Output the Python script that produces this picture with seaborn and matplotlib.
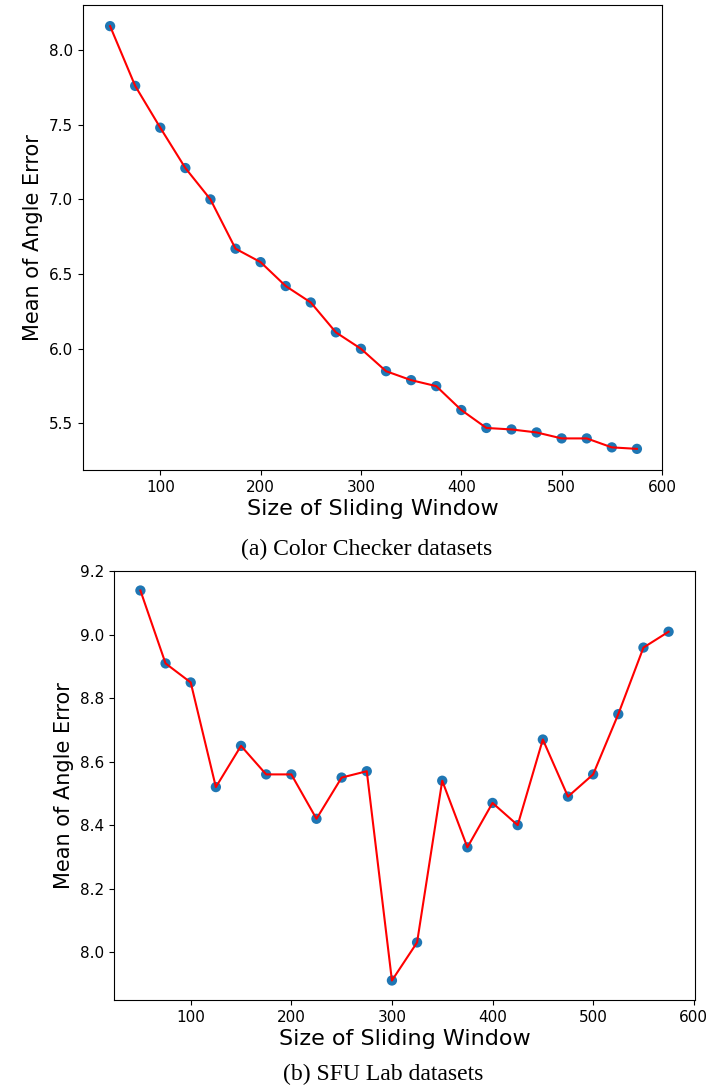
import numpy as np
import pandas as pd
import matplotlib
matplotlib.use('Agg')
import matplotlib.pyplot as plt
import seaborn as sn

# Tamanhos da janela deslizante
window_size = [50, 75, 100, 125, 150, 175, 200, 225, 250, 275, 300,
               325, 350, 375, 400, 425, 450, 475, 500, 525, 550, 575]

# Erro angular medio - Color Checker
color_checker = [8.16, 7.76, 7.48, 7.21, 7.00, 6.67, 6.58, 6.42, 6.31, 6.11, 6.00,
                 5.85, 5.79, 5.75, 5.59, 5.47, 5.46, 5.44, 5.40, 5.40, 5.34, 5.33]

# Erro angular medio - SFU Lab
sfu_lab = [9.14, 8.91, 8.85, 8.52, 8.65, 8.56, 8.56, 8.42, 8.55, 8.57, 7.91,
           8.03, 8.54, 8.33, 8.47, 8.40, 8.67, 8.49, 8.56, 8.75, 8.96, 9.01]

captions = ['(a) Color Checker datasets', '(b) SFU Lab datasets']

W, H = 721, 1089
fig = plt.figure(figsize=(W / 100, H / 100), dpi=100)

def px_axes(x0, y0, x1, y1):
    return fig.add_axes([x0 / W, 1 - y1 / H, (x1 - x0) / W, (y1 - y0) / H])

ax1 = px_axes(83, 5, 662, 470)
ax2 = px_axes(114, 571, 695, 1000)

for ax, valores in [(ax1, color_checker), (ax2, sfu_lab)]:
    df = pd.DataFrame({'Size': window_size, 'Error': valores})
    sn.scatterplot(data=df, x='Size', y='Error', ax=ax, color='#1f77b4',
                   s=55, edgecolor='none', zorder=2)
    sn.lineplot(data=df, x='Size', y='Error', ax=ax, color='red',
                linewidth=1.5, zorder=3)
    ax.set_xlabel('Size of Sliding Window', fontsize=16, labelpad=3)
    ax.set_ylabel('Mean of Angle Error', fontsize=15)
    ax.tick_params(labelsize=11)
    ax.set_xticks([100, 200, 300, 400, 500, 600])

ax1.set_xlim(23, 600)
ax1.set_yticks([5.5, 6.0, 6.5, 7.0, 7.5, 8.0])
ax2.set_yticks([8.0, 8.2, 8.4, 8.6, 8.8, 9.0, 9.2])

fig.text(367 / W, 1 - 549 / H, captions[0], ha='center', va='center',
         family='Liberation Serif', fontsize=17)
fig.text(383 / W, 1 - 1074 / H, captions[1], ha='center', va='center',
         family='Liberation Serif', fontsize=17)

plt.savefig('out.png', dpi=100)
plt.close()
